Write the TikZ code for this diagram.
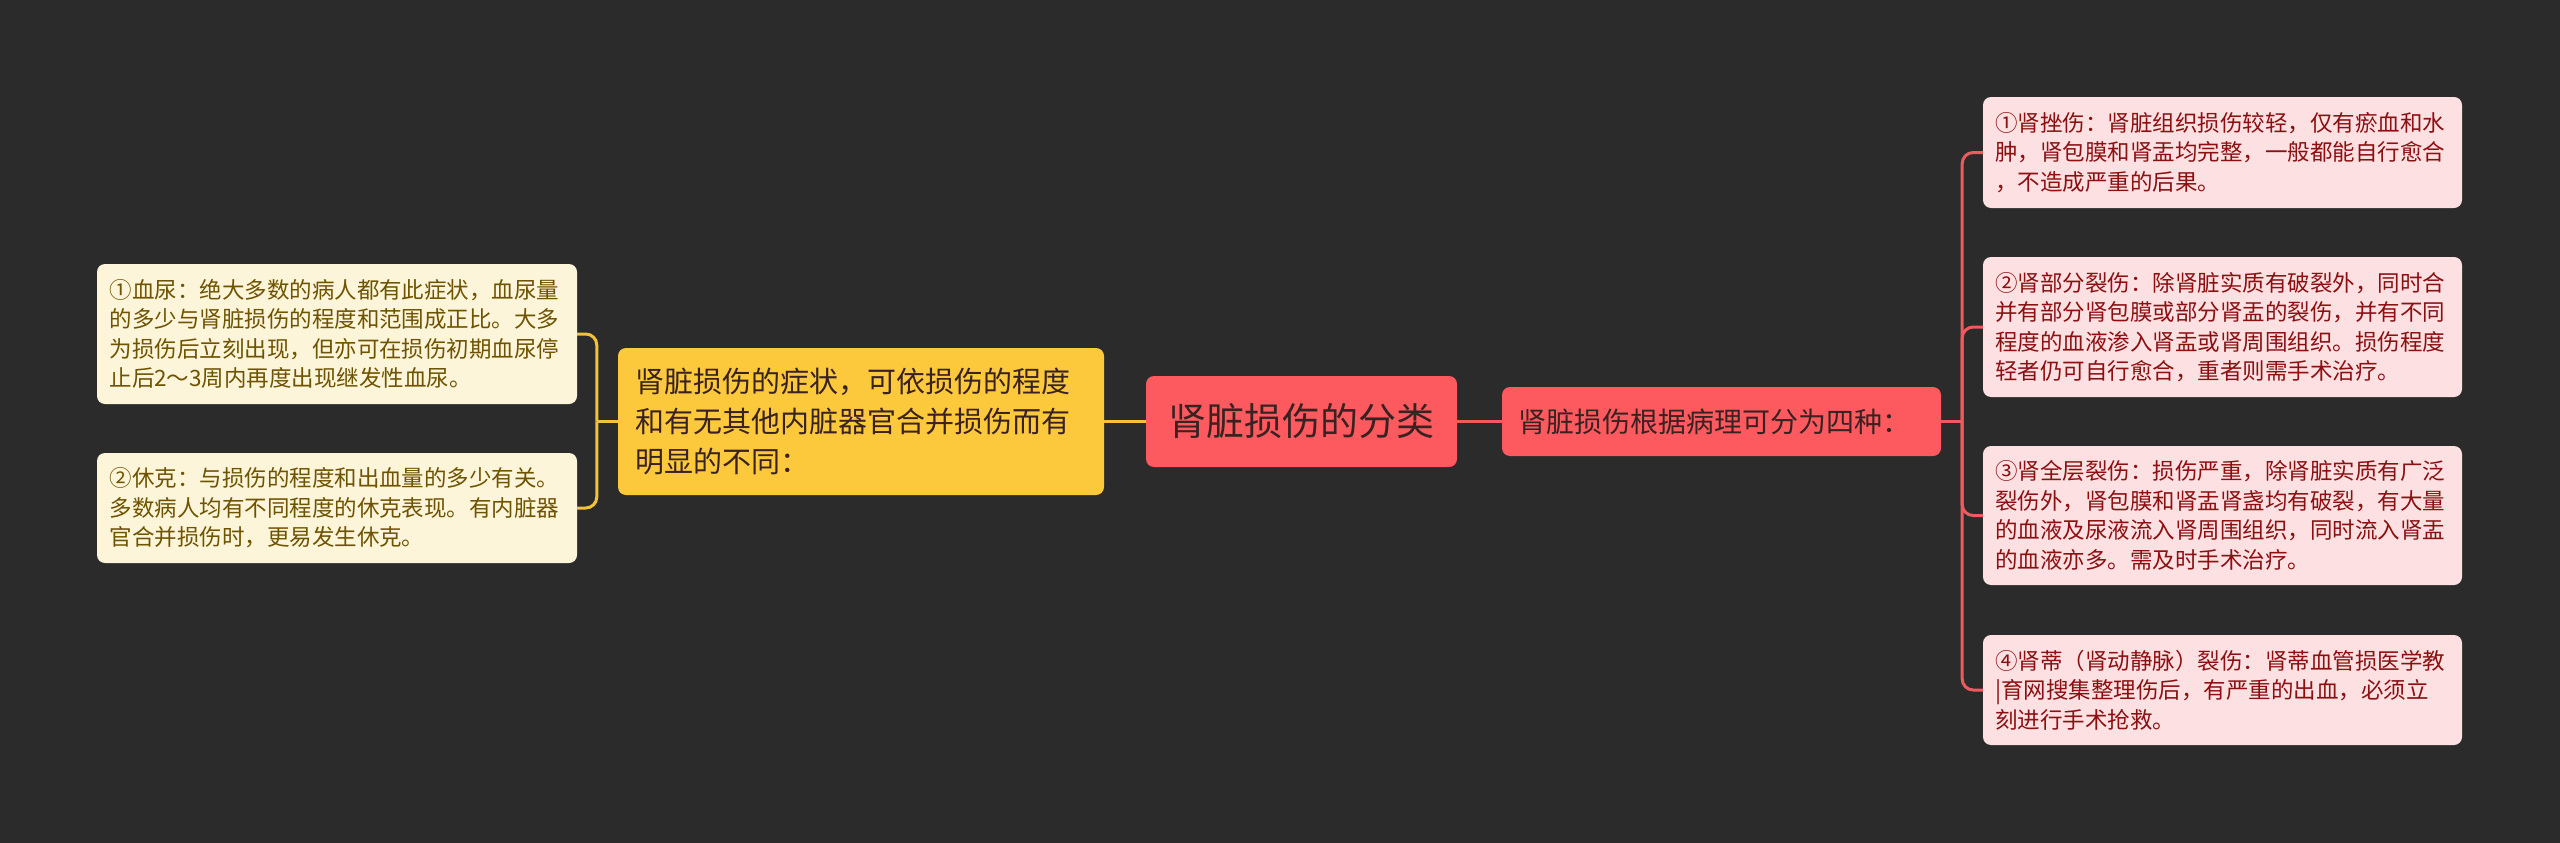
\documentclass[tikz,border=0pt]{standalone}
\usepackage{fontspec}
\setmainfont{Noto Sans CJK SC}
\usepackage{tikz}
\usetikzlibrary{positioning, backgrounds}
\definecolor{bgdark}{HTML}{2B2B2B}
\definecolor{leafcream}{HTML}{FDF5D9}
\definecolor{creamtext}{HTML}{6E5300}
\definecolor{gold}{HTML}{FCC83C}
\definecolor{coral}{HTML}{FC5A5E}
\definecolor{leafpink}{HTML}{FDE0E1}
\definecolor{pinktext}{HTML}{8C0F12}
\definecolor{darktext}{HTML}{3A2222}
\definecolor{goldline}{HTML}{F3C23D}
\definecolor{coralline}{HTML}{EF5A5E}
\tikzstyle{block} = [rectangle, rounded corners=8pt, inner ysep=0pt, align=left]
\tikzstyle{branch} = [line width=3pt]
\tikzset{
	cream leaf/.style={block, fill=leafcream, text=creamtext, text width=455pt,
		inner xsep=12.5pt, font=\fontsize{22.5}{29.5}\selectfont},
	pink leaf/.style={block, fill=leafpink, text=pinktext, text width=455pt,
		inner xsep=12pt, font=\fontsize{22.5}{29.5}\selectfont},
	gold link/.style={branch, draw=goldline},
	coral link/.style={branch, draw=coralline},
}

\begin{document}
\begin{tikzpicture}[x=1pt, y=-1pt]

\path [use as bounding box, fill=bgdark] (0,0) rectangle (2560,843);

%centre
\node [block, fill=coral, text=darktext, align=center, minimum width=311pt,
	minimum height=91pt, font=\fontsize{38}{44}\selectfont]
	at (1301.5,421.5) (root) {肾脏损伤的分类};

%left side
\node [block, fill=gold, text=darktext, text width=452pt, inner xsep=17pt,
	minimum height=147pt, font=\fontsize{29}{40}\selectfont]
	at (861,421.5) (symptom) {肾脏损伤的症状，可依损伤的程度\\和有无其他内脏器官合并损伤而有\\明显的不同：};

\node [cream leaf, minimum height=140pt] at (337,334) (blood)
	{①血尿：绝大多数的病人都有此症状，血尿量\\的多少与肾脏损伤的程度和范围成正比。大多\\为损伤后立刻出现，但亦可在损伤初期血尿停\\止后2～3周内再度出现继发性血尿。};
\node [cream leaf, minimum height=110pt] at (337,508) (shock)
	{②休克：与损伤的程度和出血量的多少有关。\\多数病人均有不同程度的休克表现。有内脏器\\官合并损伤时，更易发生休克。};

%right side
\node [block, fill=coral, text=darktext, text width=407pt, inner xsep=16pt,
	minimum height=69pt, font=\fontsize{28}{34}\selectfont]
	at (1721.5,421.5) (pathology) {肾脏损伤根据病理可分为四种：};

\node [pink leaf, minimum height=111pt] at (2222.5,152.5) (bruise)
	{①肾挫伤：肾脏组织损伤较轻，仅有瘀血和水\\肿，肾包膜和肾盂均完整，一般都能自行愈合\\，不造成严重的后果。};
\node [pink leaf, minimum height=140pt] at (2222.5,327) (partial)
	{②肾部分裂伤：除肾脏实质有破裂外，同时合\\并有部分肾包膜或部分肾盂的裂伤，并有不同\\程度的血液渗入肾盂或肾周围组织。损伤程度\\轻者仍可自行愈合，重者则需手术治疗。};
\node [pink leaf, minimum height=139pt] at (2222.5,515.5) (full)
	{③肾全层裂伤：损伤严重，除肾脏实质有广泛\\裂伤外，肾包膜和肾盂肾盏均有破裂，有大量\\的血液及尿液流入肾周围组织，同时流入肾盂\\的血液亦多。需及时手术治疗。};
\node [pink leaf, minimum height=110pt] at (2222.5,690) (pedicle)
	{④肾蒂（肾动静脉）裂伤：肾蒂血管损医学教\\|育网搜集整理伤后，有严重的出血，必须立\\刻进行手术抢救。};

\coordinate [left=21pt of symptom.west] (lfork);
\coordinate [right=21pt of pathology.east] (rfork);

\path [gold link] (root.west) -- (symptom.east);
\path [gold link] (symptom.west) -- (lfork);
\foreach \leaf in {blood, shock}
	\path [gold link, rounded corners=11pt] (lfork) |- (\leaf.east);

\path [coral link] (root.east) -- (pathology.west);
\path [coral link] (pathology.east) -- (rfork);
\foreach \leaf in {bruise, partial, full, pedicle}
	\path [coral link, rounded corners=11pt] (rfork) |- (\leaf.west);

\end{tikzpicture}
\end{document}
